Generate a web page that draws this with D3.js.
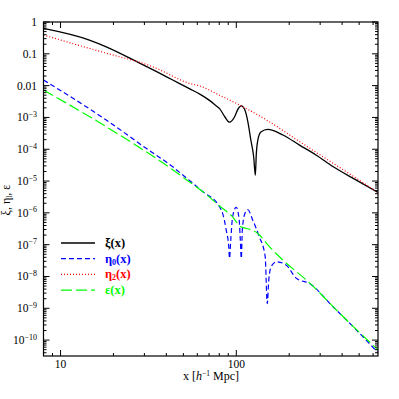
<!DOCTYPE html>
<html>
<head>
<meta charset="utf-8">
<script src="https://cdn.jsdelivr.net/npm/d3@7/dist/d3.min.js"></script>
<style>
  body { margin: 0; background: #fff; }
  svg text { font-family: "Liberation Serif", "DejaVu Serif", serif; }
</style>
</head>
<body>
<svg id="chart"></svg>
<script>
// ==================== Data ====================

// xi(x), black solid
var xiX   = [8, 14.6, 18.2, 28, 35, 43.5, 54.4, 62, 70, 77, 80.3, 86, 91.5, 97.8, 102, 106.8, 111.9, 116.3, 121, 125.6, 128.3, 130, 132.6, 138, 151, 184, 229, 284, 356, 482, 640];
var xiY   = [0.63, 0.27, 0.166, 0.052, 0.028, 0.015, 7.9e-3, 5.4e-3, 3.5e-3, 2.3e-3, 1.9e-3, 1.05e-3, 7.1e-4, 1.05e-3, 1.8e-3, 2.3e-3, 1.7e-3, 7.4e-4, 1.95e-4, 5.7e-5, 1.5e-5, 7.4e-5, 1.95e-4, 3.5e-4, 4.2e-4, 2.8e-4, 1.35e-4, 6.6e-5, 2.8e-5, 1.07e-5, 4.4e-6];

// eta_0(x), blue dashed
var eta0X = [8, 18.2, 30.7, 43.5, 52, 64.6, 80.3, 83.7, 87.6, 90.6, 91.5, 93, 95.3, 99.9, 103.9, 105.4, 106.8, 108.2, 111.9, 116.3, 124, 135, 146, 150, 153, 158, 169, 192, 220, 261, 356, 505, 640];
var eta0Y = [1.5e-2, 8.3e-4, 1.07e-4, 2.8e-5, 1.25e-5, 4.6e-6, 1.55e-6, 9.5e-7, 2.9e-7, 8.5e-8, 3.7e-8, 1.4e-7, 7.6e-7, 1.5e-6, 5.9e-7, 1.4e-7, 3.7e-8, 2.9e-7, 9.5e-7, 1.25e-6, 5.9e-7, 1.8e-7, 4.2e-8, 1.4e-9, 7.8e-9, 2.05e-8, 2.9e-8, 2.3e-8, 8.7e-9, 6.0e-9, 1.1e-9, 1.6e-10, 4.0e-11];

// eta_2(x), red dotted
var eta2X = [8, 14.6, 18.2, 33.5, 54.4, 61.9, 80.3, 104.4, 148.6, 229, 356, 640];
var eta2Y = [0.39, 0.148, 0.105, 0.039, 0.0117, 9.8e-3, 5.0e-3, 2.45e-3, 8.3e-4, 1.74e-4, 3.6e-5, 4.4e-6];

// epsilon(x), green long dashed
var epsX  = [8, 18.2, 43.5, 52, 64.6, 80.3, 93.6, 106.8, 108.5, 132.6, 154.6, 184, 261, 388, 640];
var epsY  = [7.3e-3, 5.1e-4, 2.25e-5, 1.1e-5, 4.6e-6, 1.65e-6, 8.3e-7, 3.6e-7, 3.5e-7, 2.25e-7, 8.5e-8, 3.3e-8, 6.3e-9, 6.9e-10, 4.9e-11];

// axis ticks
var xMajor = [10, 100];
var xMinor = [9, 20, 30, 40, 50, 60, 70, 80, 90, 200, 300, 400, 500, 600];
var yExponents = [0, -1, -2, -3, -4, -5, -6, -7, -8, -9, -10];

var legendNames = ["ξ", "η", "η", "ε"];
var legendSubs  = ["", "0", "2", ""];

// ==================== Drawing ====================

var svgWidth = 399, svgHeight = 399;
var plotLeft = 43.5, plotRight = 378, plotTop = 22, plotBottom = 356;

var svg = d3.select("#chart").attr("width", svgWidth).attr("height", svgHeight);

var x = d3.scaleLog().domain([8, 640]).range([plotLeft, plotRight]);
var y = d3.scaleLog().domain([Math.pow(10, -10.5), 1]).range([plotBottom, plotTop]);

svg.append("clipPath").attr("id", "plotClip")
   .append("rect").attr("x", plotLeft).attr("y", plotTop)
   .attr("width", plotRight - plotLeft).attr("height", plotBottom - plotTop);

var series = [
    { xs: xiX,   ys: xiY,   color: "#000000", dash: null,   w: 1.3 },
    { xs: eta0X, ys: eta0Y, color: "#0000ff", dash: "5,3",  w: 1.2 },
    { xs: eta2X, ys: eta2Y, color: "#ff0000", dash: "1,2",  w: 1.2 },
    { xs: epsX,  ys: epsY,  color: "#00ff00", dash: "11,4", w: 1.2 }
];

var line = d3.line()
    .x(function(d) { return x(d[0]); })
    .y(function(d) { return y(d[1]); })
    .curve(d3.curveMonotoneX);

var plot = svg.append("g").attr("clip-path", "url(#plotClip)");
series.forEach(function(s) {
    plot.append("path")
        .attr("d", line(d3.zip(s.xs, s.ys)))
        .attr("fill", "none")
        .attr("stroke", s.color)
        .attr("stroke-width", s.w)
        .attr("stroke-dasharray", s.dash);
});

// frame
svg.append("rect")
   .attr("x", plotLeft).attr("y", plotTop)
   .attr("width", plotRight - plotLeft).attr("height", plotBottom - plotTop)
   .attr("fill", "none").attr("stroke", "#000").attr("stroke-width", 1.2);

// ticks on all four sides, pointing inward
var ticks = svg.append("g").attr("stroke", "#000").attr("stroke-width", 1);
function xTick(v, len) {
    ticks.append("line").attr("x1", x(v)).attr("x2", x(v)).attr("y1", plotBottom).attr("y2", plotBottom - len);
    ticks.append("line").attr("x1", x(v)).attr("x2", x(v)).attr("y1", plotTop).attr("y2", plotTop + len);
}
function yTick(v, len) {
    ticks.append("line").attr("y1", y(v)).attr("y2", y(v)).attr("x1", plotLeft).attr("x2", plotLeft + len);
    ticks.append("line").attr("y1", y(v)).attr("y2", y(v)).attr("x1", plotRight).attr("x2", plotRight - len);
}
xMajor.forEach(function(v) { xTick(v, 6); });
xMinor.forEach(function(v) { xTick(v, 3); });
yExponents.forEach(function(k) {
    yTick(Math.pow(10, k), 6);
    for (var m = 2; m <= 9; m++) {
        var v = m * Math.pow(10, k - 1);
        if (v >= y.domain()[0]) yTick(v, 3);
    }
});

// x tick labels
svg.selectAll(".xlab").data(xMajor).enter().append("text")
   .attr("x", function(d) { return x(d); })
   .attr("y", 368)
   .attr("text-anchor", "middle")
   .attr("font-size", 11.5)
   .text(function(d) { return d; });

// y tick labels
yExponents.forEach(function(k) {
    var t = svg.append("text")
        .attr("x", 37).attr("y", y(Math.pow(10, k)) + 4)
        .attr("text-anchor", "end")
        .attr("font-size", 11.5);
    if (k === 0) t.text("1");
    else if (k === -1) t.text("0.1");
    else if (k === -2) t.text("0.01");
    else {
        t.append("tspan").text("10");
        t.append("tspan").attr("dy", -4.5).attr("font-size", 8).text("−" + (-k));
    }
});

// axis titles
var xt = svg.append("text").attr("x", 211).attr("y", 380)
    .attr("text-anchor", "middle").attr("font-size", 12);
xt.append("tspan").text("x  [");
xt.append("tspan").attr("font-style", "italic").text("h");
xt.append("tspan").attr("dy", -4).attr("font-size", 7.5).text("−1");
xt.append("tspan").attr("dy", 4).text("  Mpc]");

var yt = svg.append("text")
    .attr("transform", "translate(10,200) rotate(-90)")
    .attr("text-anchor", "middle").attr("font-size", 12);
yt.append("tspan").text("ξ, η");
yt.append("tspan").attr("dy", 2).attr("font-size", 7.5).text("l");
yt.append("tspan").attr("dy", -2).text(", ε");

// legend
var legend = svg.append("g");
series.forEach(function(s, i) {
    var ly = 243 + i * 15.7;
    legend.append("line")
        .attr("x1", 61).attr("x2", 95).attr("y1", ly).attr("y2", ly)
        .attr("stroke", s.color).attr("stroke-width", s.w)
        .attr("stroke-dasharray", s.dash);
    var t = legend.append("text")
        .attr("x", 105).attr("y", ly + 4)
        .attr("font-size", 12.5).attr("font-weight", "bold")
        .attr("fill", s.color);
    t.append("tspan").text(legendNames[i]);
    if (legendSubs[i]) {
        t.append("tspan").attr("dy", 2).attr("font-size", 8).text(legendSubs[i]);
        t.append("tspan").attr("dy", -2).text("(x)");
    } else {
        t.append("tspan").text("(x)");
    }
});
</script>
</body>
</html>
